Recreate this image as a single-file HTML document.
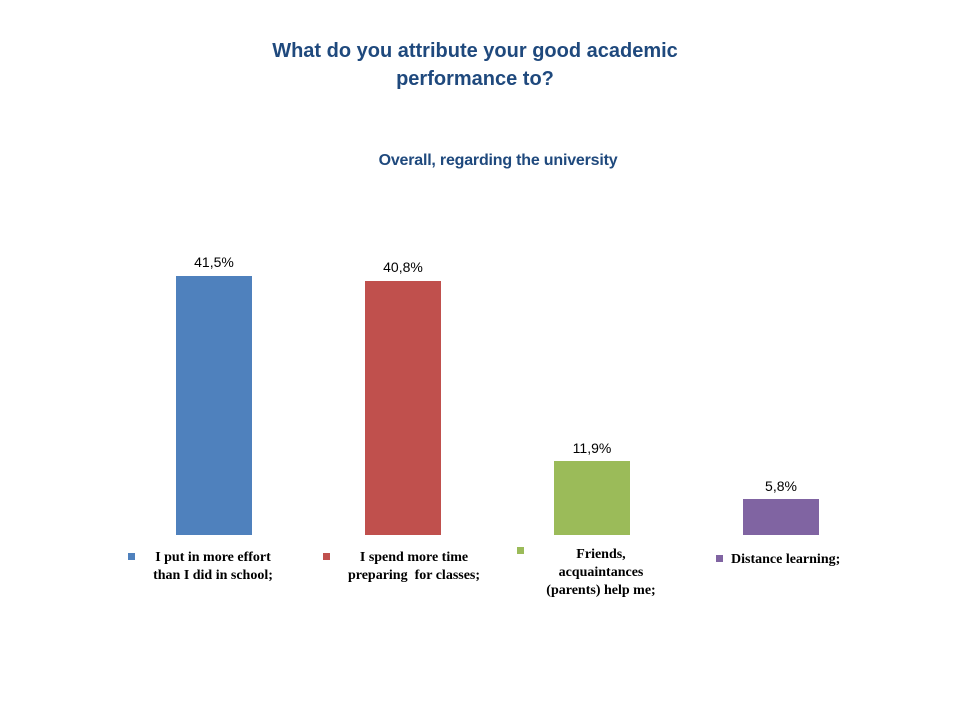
<!DOCTYPE html>
<html><head><style>
body{margin:0;width:960px;height:720px;background:#fff;position:relative;overflow:hidden;font-family:"Liberation Sans",sans-serif}
.t{position:absolute;left:0;width:950px;text-align:center;color:#1F497D;font-weight:bold}
.bar{position:absolute;width:76px}
.v{position:absolute;width:120px;text-align:center;font-size:14px;color:#000}
.lg{position:absolute;font-family:"Liberation Serif",serif;font-weight:bold;font-size:14px;line-height:18px;text-align:center;color:#000}
.sq{position:absolute;width:7px;height:7px}
</style></head><body>
<div class="t" style="top:37px;font-size:20px;line-height:28px">What do you attribute your good academic<br>performance to?</div>
<div class="t" style="top:152px;font-size:16px;left:23px;letter-spacing:-0.2px">Overall, regarding the university</div>
<div class="bar" style="left:176px;top:276px;height:259px;background:#4F81BD"></div>
<div class="bar" style="left:365px;top:281px;height:254px;background:#C0504D"></div>
<div class="bar" style="left:554px;top:461px;height:74px;background:#9BBB59"></div>
<div class="bar" style="left:743px;top:499px;height:36px;background:#8064A2"></div>
<div class="v" style="left:154px;top:254px">41,5%</div>
<div class="v" style="left:343px;top:259px">40,8%</div>
<div class="v" style="left:532px;top:440px">11,9%</div>
<div class="v" style="left:721px;top:478px">5,8%</div>
<div class="sq" style="left:128px;top:553px;background:#4F81BD"></div>
<div class="lg" style="left:138px;top:549px;width:150px">I put in more effort<br>than I did in school;</div>
<div class="sq" style="left:323px;top:553px;background:#C0504D"></div>
<div class="lg" style="left:334px;top:549px;width:160px">I spend more time<br>preparing&nbsp; for classes;</div>
<div class="sq" style="left:517px;top:547px;background:#9BBB59"></div>
<div class="lg" style="left:526px;top:546px;width:150px">Friends,<br>acquaintances<br>(parents) help me;</div>
<div class="sq" style="left:716px;top:555px;background:#8064A2"></div>
<div class="lg" style="left:731px;top:551px;width:135px;text-align:left">Distance learning;</div>
</body></html>
